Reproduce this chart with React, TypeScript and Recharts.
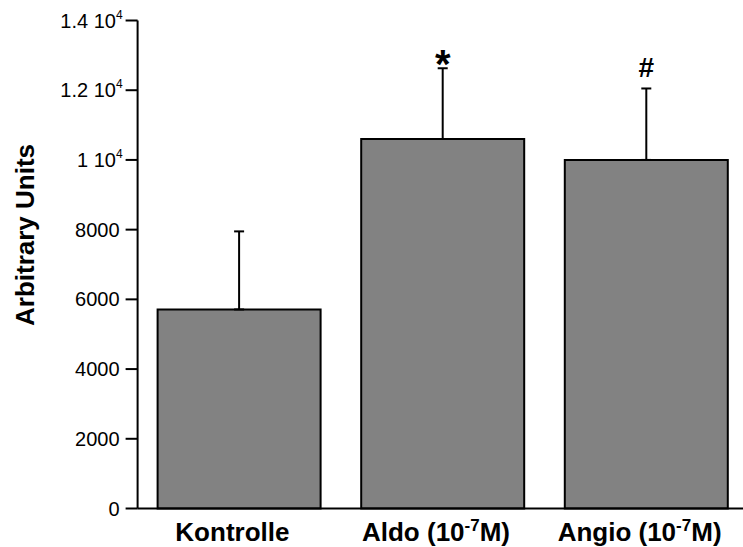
import { BarChart, Bar, XAxis, YAxis, ErrorBar, LabelList, Label } from 'recharts'

const groups = ['Kontrolle', 'Aldo', 'Angio']
const means = [5710, 10600, 10000]
const sdUp = [2240, 2030, 2050]
const marks = ['', '*', '#']
const yTicks = [0, 2000, 4000, 6000, 8000, 10000, 12000, 14000]

const rows = groups.map((g, i) => ({
  group: g,
  mean: means[i],
  err: [0, sdUp[i]],
  mark: marks[i],
}))

const FONT = '"Liberation Sans", Arial, Helvetica, sans-serif'

function YTick({ x, y, payload }: any) {
  const v = payload.value
  if (v >= 10000) {
    return (
      <text x={x + 3} y={y} dy="0.355em" textAnchor="end" fontFamily={FONT} fontSize={20} fill="#000">
        {String(v / 10000)} 10
        <tspan fontSize={12} dy={-9}>4</tspan>
      </text>
    )
  }
  return (
    <text x={x} y={y} dy="0.355em" textAnchor="end" fontFamily={FONT} fontSize={20} fill="#000">
      {v}
    </text>
  )
}

function XTick({ x, y, payload }: any) {
  const g = payload.value
  const props = { x: x - 7, y: y + 32.5, textAnchor: 'middle' as const, fontFamily: FONT, fontSize: 26, fontWeight: 700, fill: '#000' }
  if (g === 'Kontrolle') return <text {...props}>Kontrolle</text>
  return (
    <text {...props}>
      {g} (10
      <tspan fontSize={17} dy={-10}>-7</tspan>
      <tspan dy={10}>M)</tspan>
    </text>
  )
}

// significance marks sit just above the error bar cap
function Mark({ x, y, width, height, value, index }: any) {
  if (!value) return null
  const perUnit = height / means[index]
  const capY = y - sdUp[index] * perUnit
  const star = value === '*'
  return (
    <text
      x={x + width / 2}
      y={star ? capY + 10 : capY - 11}
      textAnchor="middle"
      fontFamily={FONT}
      fontWeight={700}
      fontSize={star ? 40 : 28}
      fill="#000"
    >
      {value}
    </text>
  )
}

export default function App() {
  return (
    <div style={{ position: 'absolute', left: 0, top: 0, width: 743, height: 547, overflow: 'hidden', background: '#fff' }}>
      <BarChart width={750} height={547} data={rows} margin={{ top: 20.5, right: 1.6, left: 0, bottom: 0 }} barSize={163}>
        <XAxis
          dataKey="group"
          height={38.5}
          tickLine={false}
          tickSize={0}
          tickMargin={0}
          axisLine={{ stroke: '#000', strokeWidth: 2 }}
          tick={<XTick />}
          interval={0}
        />
        <YAxis
          width={137.6}
          domain={[0, 14000]}
          ticks={yTicks}
          interval={0}
          tickSize={12}
          tickMargin={6}
          axisLine={{ stroke: '#000', strokeWidth: 2 }}
          tickLine={{ stroke: '#000', strokeWidth: 2 }}
          tick={<YTick />}
        >
          <Label
            content={() => (
              <text
                x={34}
                y={235}
                transform="rotate(-90 34 235)"
                textAnchor="middle"
                fontFamily={FONT}
                fontWeight={700}
                fontSize={26}
                fill="#000"
              >
                Arbitrary Units
              </text>
            )}
          />
        </YAxis>
        <Bar dataKey="mean" fill="#828282" stroke="#000" strokeWidth={2} isAnimationActive={false}>
          <ErrorBar dataKey="err" width={5} stroke="#000" strokeWidth={2} direction="y" />
          <LabelList dataKey="mark" content={<Mark />} />
        </Bar>
      </BarChart>
    </div>
  )
}
